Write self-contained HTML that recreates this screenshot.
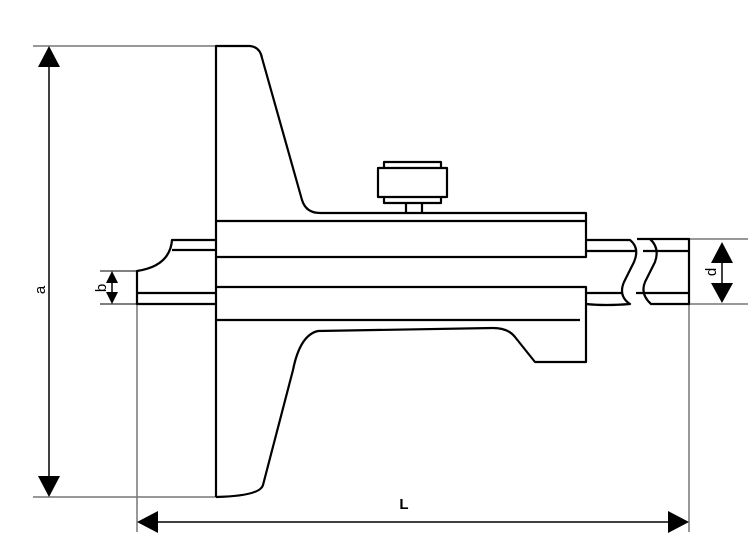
<!DOCTYPE html>
<html><head><style>body{margin:0;background:#fff}svg{display:block}</style></head><body>
<svg width="753" height="557" viewBox="0 0 753 557" xmlns="http://www.w3.org/2000/svg" font-family="Liberation Sans, sans-serif">
<g stroke="#777" stroke-width="1.5" fill="none">
<line x1="33" y1="46" x2="216" y2="46"/>
<line x1="33" y1="497" x2="216" y2="497"/>
<line x1="137" y1="304" x2="137" y2="532"/>
<line x1="689" y1="304" x2="689" y2="532"/>
<line x1="689" y1="239" x2="748" y2="239"/>
<line x1="689" y1="304" x2="748" y2="304"/>
</g>
<g stroke="#000" stroke-width="1" fill="none">
<line x1="100" y1="271" x2="137" y2="271"/>
<line x1="100" y1="304" x2="137" y2="304"/>
</g>
<g stroke="#000" stroke-width="2.2" fill="none" stroke-linejoin="round">
<path d="M216 497 V46 H250 Q260 47 262 58 L302 200 Q306 213 320 213 H586 V257 H216"/>
<line x1="216" y1="221" x2="586" y2="221"/>
<path d="M216 287 H586 V362 H535 L515 337 Q508 328 493 328 L318 331 Q300 335 293 370 L263 485 Q260 496 216 497"/>
<line x1="216" y1="320" x2="580" y2="320"/>
<path d="M378 168 H447 V197 H378 Z"/>
<path d="M384 168 V162 H441 V168"/>
<path d="M384 197 V203 H441 V197"/>
<path d="M406 203 V213 M422 203 V213"/>
<path d="M216 240 H172 Q170 266 137 271 V304 H216"/>
<line x1="172" y1="250" x2="216" y2="250"/>
<line x1="137" y1="293" x2="216" y2="293"/>
<path d="M586 240 H630 Q640 248 634 262 L624 282 Q618 296 630 304 Q605 306 586 304"/>
<line x1="586" y1="251" x2="635" y2="251"/>
<line x1="586" y1="293" x2="622" y2="293"/>
<path d="M637 239 H689 V304 H651 Q640 294 645 282 L655 262 Q660 248 650 239"/>
<line x1="643" y1="251" x2="689" y2="251"/>
<line x1="636" y1="293" x2="689" y2="293"/>
</g>
<g stroke="#000" stroke-width="1.5">
<line x1="49" y1="60" x2="49" y2="480"/>
<line x1="112" y1="280" x2="112" y2="296"/>
<line x1="722" y1="255" x2="722" y2="290"/>
<line x1="155" y1="522" x2="672" y2="522"/>
</g>
<g fill="#000">
<polygon points="49,46 38,67 60,67"/>
<polygon points="49,497 38,476 60,476"/>
<polygon points="112,271 106,283 118,283"/>
<polygon points="112,304 106,292 118,292"/>
<polygon points="722,242 711,263 733,263"/>
<polygon points="722,303 711,283 733,283"/>
<polygon points="137,522 158,511 158,533"/>
<polygon points="689,522 668,511 668,533"/>
</g>
<g font-size="15" fill="#000">
<text x="45" y="290" transform="rotate(-90 45 290)" text-anchor="middle">a</text>
<text x="106" y="288" transform="rotate(-90 106 288)" text-anchor="middle">b</text>
<text x="716" y="272" transform="rotate(-90 716 272)" text-anchor="middle">d</text>
<text x="404" y="509" text-anchor="middle" font-weight="bold">L</text>
</g>
</svg>
</body></html>
